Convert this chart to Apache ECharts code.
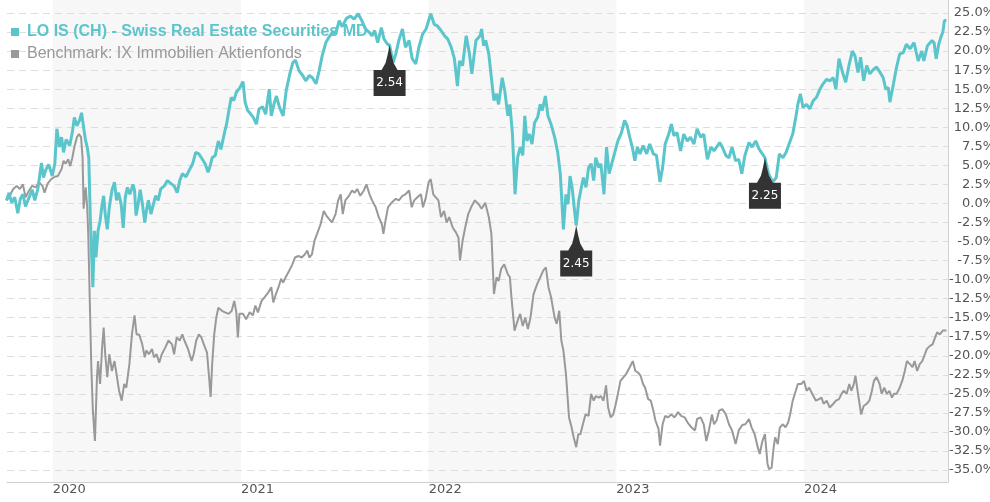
<!DOCTYPE html>
<html>
<head>
<meta charset="utf-8">
<title>LO IS (CH) - Swiss Real Estate Securities MD</title>
<script src="https://cdn.jsdelivr.net/npm/echarts@6/dist/echarts.min.js"></script>
<style>
	html, body { margin: 0; padding: 0; background: #fff; }
	#chart { width: 990px; height: 502px; }
</style>
</head>
<body>
<div id="chart"></div>
<script>
// series names
const fundName = "LO IS (CH) - Swiss Real Estate Securities MD";
const benchName = "Benchmark: IX Immobilien Aktienfonds";

// performance of the fund in %, [date, value]
const fundSeries = [
	["2019-10-03", 0.4], ["2019-10-08", 1.4], ["2019-10-13", 0.1], ["2019-10-19", 0.8], ["2019-10-25", -1.3],
	["2019-10-30", 0.6], ["2019-11-04", 1.2], ["2019-11-09", -0.4], ["2019-11-16", 0.8], ["2019-11-22", 1.8],
	["2019-11-27", 0.4], ["2019-12-03", 1.9], ["2019-12-10", 5.3], ["2019-12-14", 3.4], ["2019-12-19", 4.5],
	["2019-12-24", 5.1], ["2019-12-31", 3.6], ["2020-01-05", 5.2], ["2020-01-09", 9.8], ["2020-01-14", 7.4],
	["2020-01-18", 8.7], ["2020-01-22", 6.7], ["2020-01-27", 8.4], ["2020-02-03", 7.6], ["2020-02-08", 9.3],
	["2020-02-12", 11.3], ["2020-02-17", 10.2], ["2020-02-22", 10.9], ["2020-02-26", 11.9], ["2020-03-02", 9.5],
	["2020-03-05", 8.2], ["2020-03-08", 7.4], ["2020-03-11", 6.0], ["2020-03-14", -1.8], ["2020-03-17", -7.5],
	["2020-03-19", -11.0], ["2020-03-22", -3.6], ["2020-03-25", -7.1], ["2020-03-29", -3.6], ["2020-04-02", -2.3],
	["2020-04-06", -0.1], ["2020-04-09", 1.0], ["2020-04-12", -1.4], ["2020-04-16", -3.4], ["2020-04-20", -0.5],
	["2020-04-25", 1.7], ["2020-04-30", 2.8], ["2020-05-04", 0.4], ["2020-05-08", 1.4], ["2020-05-13", -0.1],
	["2020-05-17", -3.2], ["2020-05-21", 0.8], ["2020-05-25", 2.1], ["2020-05-30", 1.2], ["2020-06-05", 2.5],
	["2020-06-08", 1.7], ["2020-06-11", -1.6], ["2020-06-15", -0.1], ["2020-06-19", 1.8], ["2020-06-23", 0.1],
	["2020-06-28", -2.5], ["2020-07-01", -1.0], ["2020-07-05", 0.4], ["2020-07-10", -1.4], ["2020-07-14", -0.3],
	["2020-07-19", 1.0], ["2020-07-24", 0.4], ["2020-07-29", 1.9], ["2020-08-05", 2.3], ["2020-08-11", 3.0],
	["2020-08-18", 2.6], ["2020-08-24", 2.3], ["2020-08-30", 1.4], ["2020-09-04", 3.0], ["2020-09-09", 3.9],
	["2020-09-16", 3.5], ["2020-09-22", 4.3], ["2020-09-29", 5.2], ["2020-10-05", 6.7], ["2020-10-11", 6.5],
	["2020-10-18", 5.8], ["2020-10-24", 5.1], ["2020-10-29", 4.1], ["2020-11-02", 4.9], ["2020-11-06", 6.0],
	["2020-11-12", 6.3], ["2020-11-18", 8.2], ["2020-11-23", 7.1], ["2020-11-30", 9.3], ["2020-12-04", 10.4],
	["2020-12-09", 12.4], ["2020-12-13", 13.9], ["2020-12-18", 13.5], ["2020-12-23", 14.6], ["2020-12-30", 15.2],
	["2021-01-05", 16.0], ["2021-01-09", 13.3], ["2021-01-14", 12.2], ["2021-01-18", 11.9], ["2021-01-25", 11.3],
	["2021-01-31", 10.4], ["2021-02-05", 12.4], ["2021-02-12", 12.7], ["2021-02-18", 11.7], ["2021-02-25", 15.0],
	["2021-03-01", 11.5], ["2021-03-06", 13.0], ["2021-03-11", 14.1], ["2021-03-17", 12.6], ["2021-03-24", 11.5],
	["2021-03-30", 14.8], ["2021-04-06", 17.0], ["2021-04-12", 18.5], ["2021-04-17", 18.8], ["2021-04-24", 17.4],
	["2021-05-01", 16.8], ["2021-05-07", 16.1], ["2021-05-14", 16.8], ["2021-05-20", 16.5], ["2021-05-27", 15.7],
	["2021-06-02", 17.4], ["2021-06-08", 19.4], ["2021-06-15", 21.1], ["2021-06-21", 21.8], ["2021-06-28", 22.5],
	["2021-07-04", 22.2], ["2021-07-11", 24.0], ["2021-07-17", 23.2], ["2021-07-25", 24.3], ["2021-08-02", 24.6],
	["2021-08-09", 24.2], ["2021-08-17", 24.9], ["2021-08-24", 24.0], ["2021-08-31", 22.9], ["2021-09-07", 22.5],
	["2021-09-13", 22.0], ["2021-09-18", 22.7], ["2021-09-24", 21.1], ["2021-10-01", 23.1], ["2021-10-06", 21.6],
	["2021-10-13", 20.9], ["2021-10-17", 20.8], ["2021-10-24", 18.5], ["2021-10-29", 19.6], ["2021-11-04", 21.4],
	["2021-11-11", 22.9], ["2021-11-17", 20.5], ["2021-11-24", 21.4], ["2021-11-30", 19.0], ["2021-12-07", 18.3],
	["2021-12-13", 20.5], ["2021-12-20", 22.2], ["2021-12-27", 22.9], ["2022-01-05", 24.9], ["2022-01-12", 23.5],
	["2022-01-18", 23.3], ["2022-01-25", 22.7], ["2022-02-01", 22.0], ["2022-02-07", 21.6], ["2022-02-14", 20.5],
	["2022-02-20", 19.0], ["2022-02-26", 15.4], ["2022-03-02", 18.7], ["2022-03-08", 18.1], ["2022-03-15", 22.0],
	["2022-03-21", 19.8], ["2022-03-26", 17.0], ["2022-04-03", 21.4], ["2022-04-11", 22.0], ["2022-04-14", 22.9],
	["2022-04-18", 20.7], ["2022-04-22", 21.4], ["2022-04-28", 19.6], ["2022-05-03", 16.5], ["2022-05-08", 13.5],
	["2022-05-13", 14.4], ["2022-05-17", 13.0], ["2022-05-24", 16.5], ["2022-05-29", 14.8], ["2022-06-04", 11.5],
	["2022-06-08", 13.0], ["2022-06-13", 9.1], ["2022-06-18", 1.2], ["2022-06-23", 6.0], ["2022-06-28", 7.4],
	["2022-07-03", 6.3], ["2022-07-07", 11.5], ["2022-07-11", 8.2], ["2022-07-16", 9.1], ["2022-07-21", 7.8],
	["2022-07-26", 10.6], ["2022-08-01", 11.3], ["2022-08-06", 13.0], ["2022-08-10", 12.2], ["2022-08-16", 14.1],
	["2022-08-21", 11.5], ["2022-08-27", 10.4], ["2022-09-03", 8.7], ["2022-09-09", 6.7], ["2022-09-14", 3.9],
	["2022-09-17", 0.4], ["2022-09-20", -3.4], ["2022-09-25", 1.2], ["2022-09-29", -0.1], ["2022-10-03", 3.6],
	["2022-10-07", 2.1], ["2022-10-11", -0.5], ["2022-10-15", -2.9], ["2022-10-20", 0.4], ["2022-10-25", 2.1],
	["2022-10-29", 3.4], ["2022-11-03", 2.1], ["2022-11-08", 4.7], ["2022-11-13", 5.2], ["2022-11-18", 3.0],
	["2022-11-22", 6.0], ["2022-11-28", 4.7], ["2022-12-02", 5.2], ["2022-12-08", 1.2], ["2022-12-13", 7.4],
	["2022-12-18", 3.9], ["2022-12-23", 5.2], ["2022-12-29", 6.7], ["2023-01-04", 8.2], ["2023-01-11", 9.3],
	["2023-01-17", 10.9], ["2023-01-22", 10.2], ["2023-01-27", 8.7], ["2023-02-01", 7.4], ["2023-02-06", 5.6],
	["2023-02-11", 7.4], ["2023-02-16", 6.5], ["2023-02-22", 7.6], ["2023-03-01", 6.5], ["2023-03-07", 7.8],
	["2023-03-14", 6.5], ["2023-03-20", 6.3], ["2023-03-27", 2.8], ["2023-04-01", 4.7], ["2023-04-06", 7.8],
	["2023-04-13", 9.1], ["2023-04-18", 10.4], ["2023-04-23", 8.9], ["2023-04-29", 9.3], ["2023-05-06", 6.9],
	["2023-05-12", 9.1], ["2023-05-19", 8.2], ["2023-05-25", 8.7], ["2023-06-01", 7.8], ["2023-06-07", 9.8],
	["2023-06-14", 8.7], ["2023-06-20", 9.1], ["2023-06-27", 5.8], ["2023-07-04", 7.4], ["2023-07-10", 6.9],
	["2023-07-17", 7.6], ["2023-07-21", 8.0], ["2023-07-26", 7.4], ["2023-08-02", 6.3], ["2023-08-08", 6.0],
	["2023-08-14", 7.4], ["2023-08-21", 5.6], ["2023-08-27", 5.8], ["2023-09-02", 3.9], ["2023-09-08", 6.3],
	["2023-09-16", 8.0], ["2023-09-22", 7.4], ["2023-09-29", 8.2], ["2023-10-06", 7.1], ["2023-10-12", 6.5],
	["2023-10-17", 6.0], ["2023-10-24", 3.9], ["2023-11-01", 2.8], ["2023-11-08", 3.4], ["2023-11-14", 6.5],
	["2023-11-21", 6.0], ["2023-11-27", 6.7], ["2023-12-04", 8.0], ["2023-12-10", 9.1], ["2023-12-16", 11.3],
	["2023-12-20", 13.0], ["2023-12-25", 14.4], ["2023-12-30", 12.6], ["2024-01-06", 13.0], ["2024-01-12", 12.4],
	["2024-01-19", 13.5], ["2024-01-25", 13.9], ["2024-02-01", 15.0], ["2024-02-07", 15.7], ["2024-02-14", 16.3],
	["2024-02-20", 16.1], ["2024-02-27", 16.5], ["2024-03-03", 15.0], ["2024-03-09", 19.0], ["2024-03-16", 17.2],
	["2024-03-22", 15.9], ["2024-03-29", 18.3], ["2024-04-04", 20.0], ["2024-04-09", 19.4], ["2024-04-15", 17.2],
	["2024-04-20", 19.2], ["2024-04-26", 16.1], ["2024-05-02", 18.1], ["2024-05-08", 17.0], ["2024-05-15", 17.6],
	["2024-05-21", 17.9], ["2024-05-28", 17.2], ["2024-06-03", 16.5], ["2024-06-08", 15.0], ["2024-06-13", 15.2],
	["2024-06-16", 13.3], ["2024-06-23", 15.7], ["2024-06-29", 17.9], ["2024-07-05", 19.6], ["2024-07-12", 19.8],
	["2024-07-18", 20.9], ["2024-07-25", 20.3], ["2024-08-02", 21.1], ["2024-08-10", 18.7], ["2024-08-17", 20.0],
	["2024-08-21", 18.7], ["2024-08-28", 20.7], ["2024-09-06", 21.4], ["2024-09-10", 21.1], ["2024-09-14", 19.0],
	["2024-09-19", 20.9], ["2024-09-23", 21.8], ["2024-09-27", 22.5], ["2024-09-30", 24.0], ["2024-10-04", 24.0],
];

// performance of the benchmark in %, [date, value]
const benchSeries = [
	["2019-10-03", 0.4], ["2019-10-08", 0.8], ["2019-10-16", 1.9], ["2019-10-23", 2.3], ["2019-10-29", 1.9],
	["2019-11-04", 2.5], ["2019-11-09", 0.8], ["2019-11-16", 1.7], ["2019-11-22", 2.3], ["2019-11-29", 2.1],
	["2019-12-05", 2.8], ["2019-12-12", 2.3], ["2019-12-16", 1.4], ["2019-12-22", 2.6], ["2019-12-29", 3.2],
	["2020-01-05", 3.5], ["2020-01-11", 3.6], ["2020-01-18", 4.5], ["2020-01-22", 5.6], ["2020-01-26", 5.2],
	["2020-01-31", 5.8], ["2020-02-04", 4.9], ["2020-02-08", 6.0], ["2020-02-12", 7.4], ["2020-02-17", 8.7],
	["2020-02-21", 9.1], ["2020-02-25", 8.7], ["2020-02-28", 6.0], ["2020-03-01", -0.7], ["2020-03-05", 2.1],
	["2020-03-08", -0.5], ["2020-03-10", -4.0], ["2020-03-13", -12.8], ["2020-03-16", -21.5], ["2020-03-19", -27.2],
	["2020-03-23", -31.2], ["2020-03-27", -22.8], ["2020-03-29", -20.7], ["2020-04-02", -23.7], ["2020-04-06", -18.9],
	["2020-04-09", -16.3], ["2020-04-12", -19.8], ["2020-04-16", -22.8], ["2020-04-20", -19.8], ["2020-04-25", -22.0],
	["2020-04-30", -20.7], ["2020-05-04", -22.4], ["2020-05-09", -24.6], ["2020-05-14", -25.9], ["2020-05-19", -23.7],
	["2020-05-23", -24.2], ["2020-05-29", -21.1], ["2020-06-03", -17.2], ["2020-06-08", -14.7], ["2020-06-12", -17.2],
	["2020-06-17", -17.2], ["2020-06-23", -18.5], ["2020-06-28", -20.2], ["2020-07-01", -19.3], ["2020-07-06", -19.8],
	["2020-07-12", -19.1], ["2020-07-16", -20.2], ["2020-07-21", -19.8], ["2020-07-26", -20.9], ["2020-07-31", -19.8],
	["2020-08-07", -18.9], ["2020-08-13", -18.0], ["2020-08-20", -18.5], ["2020-08-24", -19.8], ["2020-08-29", -17.6],
	["2020-09-04", -18.0], ["2020-09-09", -17.2], ["2020-09-13", -18.0], ["2020-09-20", -19.1], ["2020-09-27", -20.7],
	["2020-10-01", -19.8], ["2020-10-06", -18.0], ["2020-10-11", -17.2], ["2020-10-16", -17.6], ["2020-10-23", -18.9],
	["2020-10-27", -19.6], ["2020-10-31", -22.8], ["2020-11-03", -25.4], ["2020-11-06", -21.1], ["2020-11-10", -17.2],
	["2020-11-14", -15.0], ["2020-11-18", -13.7], ["2020-11-25", -14.1], ["2020-12-01", -14.3], ["2020-12-08", -14.5],
	["2020-12-14", -14.1], ["2020-12-19", -12.8], ["2020-12-23", -14.3], ["2020-12-26", -17.6], ["2020-12-29", -14.5],
	["2021-01-05", -14.5], ["2021-01-11", -15.2], ["2021-01-18", -14.3], ["2021-01-24", -14.7], ["2021-01-29", -13.4],
	["2021-02-03", -14.3], ["2021-02-10", -12.8], ["2021-02-16", -12.3], ["2021-02-23", -11.7], ["2021-03-01", -11.0],
	["2021-03-05", -13.0], ["2021-03-10", -11.9], ["2021-03-15", -11.0], ["2021-03-20", -9.9], ["2021-03-24", -10.4],
	["2021-03-29", -9.7], ["2021-04-05", -8.8], ["2021-04-11", -8.0], ["2021-04-16", -7.1], ["2021-04-23", -6.9],
	["2021-04-29", -7.1], ["2021-05-05", -6.7], ["2021-05-10", -6.2], ["2021-05-14", -7.1], ["2021-05-19", -6.7],
	["2021-05-24", -4.9], ["2021-05-29", -4.0], ["2021-06-05", -2.7], ["2021-06-11", -1.0], ["2021-06-16", -1.6],
	["2021-06-22", -2.1], ["2021-06-27", -2.5], ["2021-07-04", -1.4], ["2021-07-09", 0.4], ["2021-07-14", 1.2],
	["2021-07-18", -1.4], ["2021-07-23", 0.4], ["2021-07-30", 1.0], ["2021-08-05", 1.7], ["2021-08-10", 1.4],
	["2021-08-15", 1.9], ["2021-08-21", 1.0], ["2021-08-28", 1.7], ["2021-09-02", 2.5], ["2021-09-08", 1.2],
	["2021-09-13", 0.4], ["2021-09-20", -0.5], ["2021-09-26", -1.8], ["2021-10-02", -2.7], ["2021-10-05", -4.0],
	["2021-10-09", -2.3], ["2021-10-14", -0.5], ["2021-10-21", 0.1], ["2021-10-29", 0.6], ["2021-11-04", 0.4],
	["2021-11-11", 1.0], ["2021-11-17", 1.2], ["2021-11-24", 1.7], ["2021-11-29", -0.5], ["2021-12-04", 0.4],
	["2021-12-10", 0.8], ["2021-12-17", 1.2], ["2021-12-21", -0.5], ["2021-12-26", 0.6], ["2022-01-01", 2.8],
	["2022-01-05", 3.2], ["2022-01-10", 1.2], ["2022-01-15", 0.8], ["2022-01-20", 0.4], ["2022-01-25", -1.8],
	["2022-01-31", -1.0], ["2022-02-05", -2.5], ["2022-02-10", -1.8], ["2022-02-17", -3.2], ["2022-02-23", -3.8],
	["2022-02-28", -4.5], ["2022-03-03", -7.5], ["2022-03-08", -4.9], ["2022-03-13", -3.2], ["2022-03-19", -1.4],
	["2022-03-26", -0.3], ["2022-04-01", 0.4], ["2022-04-08", -0.1], ["2022-04-14", -0.7], ["2022-04-21", 0.1],
	["2022-04-28", -1.8], ["2022-05-03", -4.0], ["2022-05-08", -11.9], ["2022-05-13", -9.7], ["2022-05-17", -10.2],
	["2022-05-22", -8.6], ["2022-05-28", -8.0], ["2022-06-04", -9.3], ["2022-06-08", -9.7], ["2022-06-11", -12.3],
	["2022-06-17", -16.7], ["2022-06-23", -15.4], ["2022-06-28", -14.5], ["2022-07-03", -16.1], ["2022-07-08", -15.0],
	["2022-07-13", -16.5], ["2022-07-18", -15.0], ["2022-07-24", -11.9], ["2022-07-31", -10.6], ["2022-08-06", -9.7],
	["2022-08-12", -8.8], ["2022-08-17", -8.4], ["2022-08-22", -11.0], ["2022-08-27", -12.3], ["2022-09-03", -15.0],
	["2022-09-07", -15.8], ["2022-09-12", -14.1], ["2022-09-16", -18.0], ["2022-09-20", -19.3], ["2022-09-25", -22.4],
	["2022-10-01", -28.1], ["2022-10-06", -29.4], ["2022-10-10", -30.7], ["2022-10-15", -32.0], ["2022-10-19", -30.3],
	["2022-10-23", -30.3], ["2022-10-28", -29.0], ["2022-11-02", -27.7], ["2022-11-08", -27.9], ["2022-11-13", -25.0],
	["2022-11-18", -25.9], ["2022-11-22", -25.3], ["2022-11-28", -25.5], ["2022-12-02", -25.3], ["2022-12-07", -25.9],
	["2022-12-12", -23.9], ["2022-12-16", -26.8], ["2022-12-21", -28.1], ["2022-12-26", -27.7], ["2022-12-30", -26.6],
	["2023-01-04", -25.0], ["2023-01-09", -23.3], ["2023-01-15", -22.8], ["2023-01-20", -22.4], ["2023-01-27", -21.5],
	["2023-02-02", -20.7], ["2023-02-07", -22.0], ["2023-02-12", -22.2], ["2023-02-17", -22.6], ["2023-02-22", -23.7],
	["2023-02-26", -24.2], ["2023-03-04", -25.7], ["2023-03-09", -25.9], ["2023-03-14", -27.2], ["2023-03-18", -28.5],
	["2023-03-24", -29.6], ["2023-03-27", -31.8], ["2023-04-01", -29.0], ["2023-04-06", -27.9], ["2023-04-11", -28.1],
	["2023-04-18", -27.7], ["2023-04-24", -28.1], ["2023-05-01", -27.4], ["2023-05-07", -27.9], ["2023-05-14", -28.1],
	["2023-05-20", -28.8], ["2023-05-27", -29.4], ["2023-06-03", -29.8], ["2023-06-07", -28.3], ["2023-06-14", -28.1],
	["2023-06-20", -29.0], ["2023-06-25", -31.2], ["2023-06-30", -29.8], ["2023-07-06", -27.7], ["2023-07-10", -29.0],
	["2023-07-15", -28.5], ["2023-07-20", -27.2], ["2023-07-26", -27.0], ["2023-08-02", -27.7], ["2023-08-08", -29.0],
	["2023-08-14", -29.8], ["2023-08-21", -31.6], ["2023-08-27", -29.8], ["2023-09-03", -29.1], ["2023-09-09", -29.0],
	["2023-09-16", -28.3], ["2023-09-21", -29.4], ["2023-09-27", -30.3], ["2023-10-03", -32.0], ["2023-10-07", -32.9],
	["2023-10-12", -31.2], ["2023-10-17", -30.3], ["2023-10-22", -34.2], ["2023-10-25", -34.9], ["2023-10-30", -34.7],
	["2023-11-03", -32.0], ["2023-11-06", -30.7], ["2023-11-11", -31.6], ["2023-11-15", -29.4], ["2023-11-21", -29.0],
	["2023-11-26", -29.4], ["2023-12-01", -28.8], ["2023-12-05", -27.7], ["2023-12-10", -25.9], ["2023-12-16", -24.6],
	["2023-12-20", -23.7], ["2023-12-27", -23.7], ["2024-01-01", -23.3], ["2024-01-06", -24.6], ["2024-01-11", -24.2],
	["2024-01-17", -25.0], ["2024-01-24", -25.9], ["2024-01-30", -25.7], ["2024-02-04", -25.5], ["2024-02-08", -26.3],
	["2024-02-14", -25.9], ["2024-02-20", -26.8], ["2024-02-27", -26.3], ["2024-03-03", -25.9], ["2024-03-09", -25.7],
	["2024-03-14", -25.0], ["2024-03-18", -24.6], ["2024-03-24", -25.0], ["2024-03-29", -23.7], ["2024-04-02", -24.6],
	["2024-04-07", -23.7], ["2024-04-10", -22.6], ["2024-04-15", -25.0], ["2024-04-18", -26.3], ["2024-04-21", -27.7],
	["2024-04-26", -26.6], ["2024-05-02", -26.3], ["2024-05-07", -25.9], ["2024-05-12", -24.6], ["2024-05-16", -23.3],
	["2024-05-21", -22.8], ["2024-05-27", -23.7], ["2024-05-31", -25.0], ["2024-06-05", -24.2], ["2024-06-10", -25.0],
	["2024-06-15", -24.6], ["2024-06-20", -25.5], ["2024-06-24", -25.0], ["2024-06-29", -25.0], ["2024-07-05", -24.2],
	["2024-07-10", -23.3], ["2024-07-15", -22.0], ["2024-07-19", -20.7], ["2024-07-25", -21.1], ["2024-07-30", -21.5],
	["2024-08-03", -20.7], ["2024-08-08", -22.0], ["2024-08-13", -21.1], ["2024-08-18", -20.7], ["2024-08-23", -19.8],
	["2024-08-27", -19.1], ["2024-09-02", -18.7], ["2024-09-07", -18.5], ["2024-09-12", -17.6], ["2024-09-16", -16.9],
	["2024-09-21", -17.2], ["2024-09-27", -16.7], ["2024-09-30", -16.5], ["2024-10-04", -16.7],
];

// distribution markers on the fund line: [date, fund value, amount]
const distributions = [
	["2021-10-17", 20.8, "2.54"],
	["2022-10-15", -2.9, "2.45"],
	["2023-10-17", 6.0, "2.25"],
];

// shaded calendar years [start, end]
const yearBands = [
	["2020-01-01", "2021-01-01"],
	["2022-01-01", "2023-01-01"],
	["2024-01-01", "2024-10-07"],
];

// time range and y ticks
const dateMin = "2019-10-04";
const dateMax = "2024-10-07";
const yMin = -35;
const yMax = 25;
const yStep = 2.5;

const teal = "#5bc5cc";
const grey = "#999999";

const chart = echarts.init(document.getElementById("chart"));

const option = {
	animation: false,
	backgroundColor: "#fff",
	// legend top left, over the plot
	legend: {
		orient: "vertical",
		left: 11,
		top: 24,
		padding: 0,
		itemWidth: 8,
		itemHeight: 8,
		itemGap: 6,
		icon: "rect",
		selectedMode: false,
		textStyle: {
			fontFamily: "Liberation Sans, Arial, sans-serif",
			fontSize: 16,
			padding: [0, 0, 0, 3],
		},
		data: [
			{ name: fundName, textStyle: { color: teal, fontWeight: "bold" } },
			{ name: benchName, textStyle: { color: grey } },
		],
	},
	grid: [
		// data grid: -35% .. 25% (fixed box, labels may run to the edge)
		{ left: 7, right: 42, top: 13, bottom: 32, outerBoundsMode: "none", containLabel: false },
		// background grid: year bands, bottom and right axis lines
		{ left: 7, right: 42, top: 0, bottom: 20, outerBoundsMode: "none", containLabel: false },
	],
	xAxis: [
		{
			type: "time",
			gridIndex: 0,
			min: dateMin,
			max: dateMax,
			show: false,
		},
		{
			type: "time",
			gridIndex: 1,
			min: dateMin,
			max: dateMax,
			minInterval: 365 * 24 * 3600 * 1000,
			z: 1.5,
			axisLine: { show: true, lineStyle: { color: "#d0d0d0", width: 1 } },
			axisTick: { show: false },
			splitLine: { show: false },
			axisLabel: {
				color: "#555",
				fontFamily: "DejaVu Sans, Verdana, sans-serif",
				fontSize: 13,
				align: "left",
				margin: 1,
				formatter: (v) => String(new Date(v).getFullYear()),
			},
		},
	],
	yAxis: [
		{
			type: "value",
			gridIndex: 0,
			position: "right",
			min: yMin,
			max: yMax,
			interval: yStep,
			z: 1.5,
			axisLine: { show: false },
			axisTick: { show: false },
			axisLabel: {
				color: "#555",
				fontFamily: "DejaVu Sans, Verdana, sans-serif",
				fontSize: 13,
				align: "right",
				margin: 47,
				formatter: (v) => v.toFixed(1) + "%",
			},
			splitLine: {
				lineStyle: { color: "#dddddd", type: [7, 5], width: 1 },
			},
		},
		{
			type: "value",
			gridIndex: 1,
			position: "right",
			min: 0,
			max: 1,
			z: 1.5,
			axisLine: { show: true, lineStyle: { color: "#d0d0d0", width: 1 } },
			axisTick: { show: false },
			axisLabel: { show: false },
			splitLine: { show: false },
		},
	],
	series: [
		// shaded years (background grid)
		{
			name: "",
			type: "line",
			xAxisIndex: 1,
			yAxisIndex: 1,
			data: [[dateMin, 0]],
			showSymbol: false,
			lineStyle: { opacity: 0 },
			silent: true,
			markArea: {
				silent: true,
				itemStyle: { color: "#f7f7f7" },
				data: yearBands.map((b) => [{ xAxis: b[0] }, { xAxis: b[1] }]),
			},
		},
		{
			name: benchName,
			type: "line",
			xAxisIndex: 0,
			yAxisIndex: 0,
			data: benchSeries,
			showSymbol: false,
			color: grey,
			lineStyle: { width: 2, color: grey },
		},
		{
			name: fundName,
			type: "line",
			xAxisIndex: 0,
			yAxisIndex: 0,
			data: fundSeries,
			showSymbol: false,
			color: teal,
			lineStyle: { width: 3, color: teal },
			markPoint: {
				silent: true,
				symbol: "path://M16,0 L18,10 L20,18 L24,25 L32,25 L32,51 L0,51 L0,25 L8,25 L12,18 L14,10 Z",
				symbolSize: [32, 51],
				symbolOffset: [0, 25.5],
				itemStyle: { color: "#333" },
				label: {
					show: true,
					position: "inside",
					offset: [0, 12.5],
					color: "#fff",
					fontFamily: "DejaVu Sans, Verdana, sans-serif",
					fontSize: 12,
					formatter: (p) => p.data.amount,
				},
				data: distributions.map((d) => ({ coord: [d[0], d[1]], amount: d[2] })),
			},
		},
	],
};

chart.setOption(option);
</script>
</body>
</html>
